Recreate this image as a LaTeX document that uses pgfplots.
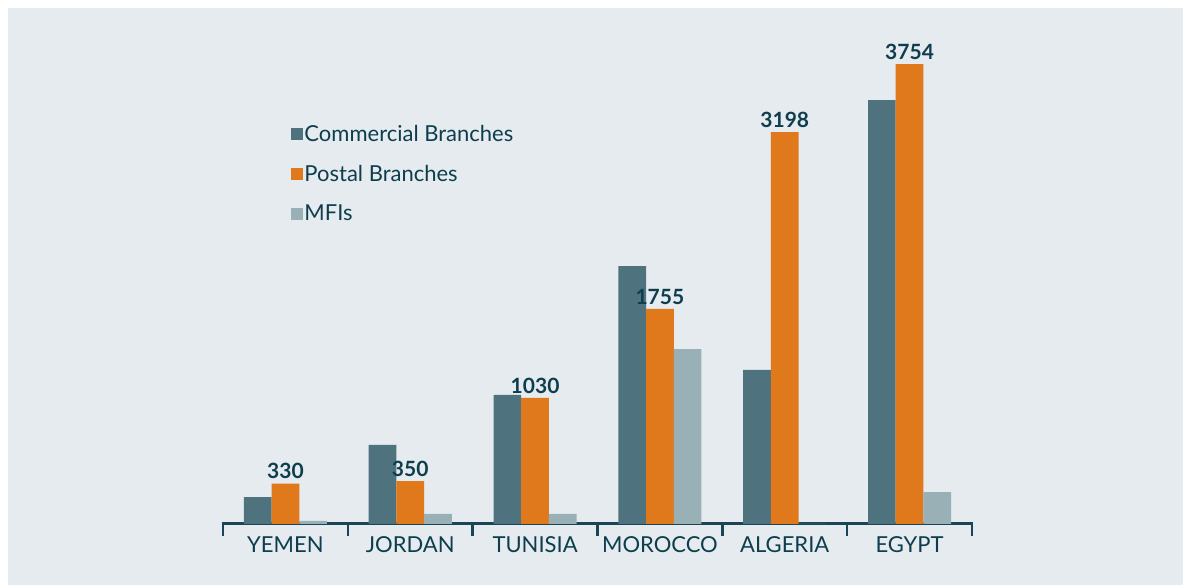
\documentclass[border=0pt]{standalone}
\usepackage{pgfplots}
\pgfplotsset{compat=1.18}
\usepackage{fontspec}
\setmainfont{Lato}
\definecolor{bgc}{HTML}{E5EBEE}
\definecolor{comc}{HTML}{4E737E}
\definecolor{posc}{HTML}{E0791C}
\definecolor{mfic}{HTML}{9AB0B7}
\definecolor{txtc}{HTML}{0E3E4E}
\definecolor{axc}{HTML}{1A4554}
\begin{document}
\begin{tikzpicture}[x=1pt,y=1pt]
\fill[bgc] (8,0) rectangle (1183,577);
\useasboundingbox (0,0) rectangle (1183,585);
\begin{axis}[
  at={(223pt,61pt)}, anchor=south west,
  scale only axis, width=749pt, height=484pt,
  xmin=-0.5, xmax=5.5, ymin=0, ymax=3950,
  clip=false,
  ybar=0pt, bar width=27.7pt,
  axis x line*=bottom, axis y line=none,
  x axis line style={line width=3pt, color=axc, shorten <=-1.2pt, shorten >=-1.2pt},
  xtick={0,1,2,3,4,5},
  xticklabels={YEMEN,JORDAN,TUNISIA,MOROCCO,ALGERIA,EGYPT},
  major tick length=0pt,
  minor xtick={-0.5,0.5,1.5,2.5,3.5,4.5,5.5},
  minor tick length=12pt,
  tick align=outside,
  minor x tick style={line width=2.5pt, color=axc},
  xticklabel style={font=\fontsize{22}{24}\selectfont, text=txtc, yshift=-9pt},
  /pgf/number format/.cd, 1000 sep={}, assume math mode=true, /pgfplots/.cd,
  legend style={draw=none, fill=none, at={(0.0865,0.831)}, anchor=north west,
    font=\fontsize{22}{24}\selectfont, text=txtc, row sep=19pt,
    nodes={inner sep=1.5pt}},
  legend cell align=left,
  legend image code/.code={\fill[#1,draw=none] (0pt,-6pt) rectangle (12pt,6pt);},
]
\addplot[fill=comc, draw=none] coordinates {(0,220) (1,645) (2,1053) (3,2105) (4,1257) (5,3460)};
\addplot[fill=posc, draw=none,
  nodes near coords,
  every node near coord/.append style={font=\bfseries\fontsize{21}{24}\selectfont, text=txtc, yshift=1pt}]
  coordinates {(0,330) (1,350) (2,1030) (3,1755) (4,3198) (5,3754)};
\addplot[fill=mfic, draw=none] coordinates {(0,25) (1,82) (2,82) (3,1428) (4,0) (5,261)};
\legend{Commercial Branches, Postal Branches, MFIs}
\end{axis}
\end{tikzpicture}
\end{document}
